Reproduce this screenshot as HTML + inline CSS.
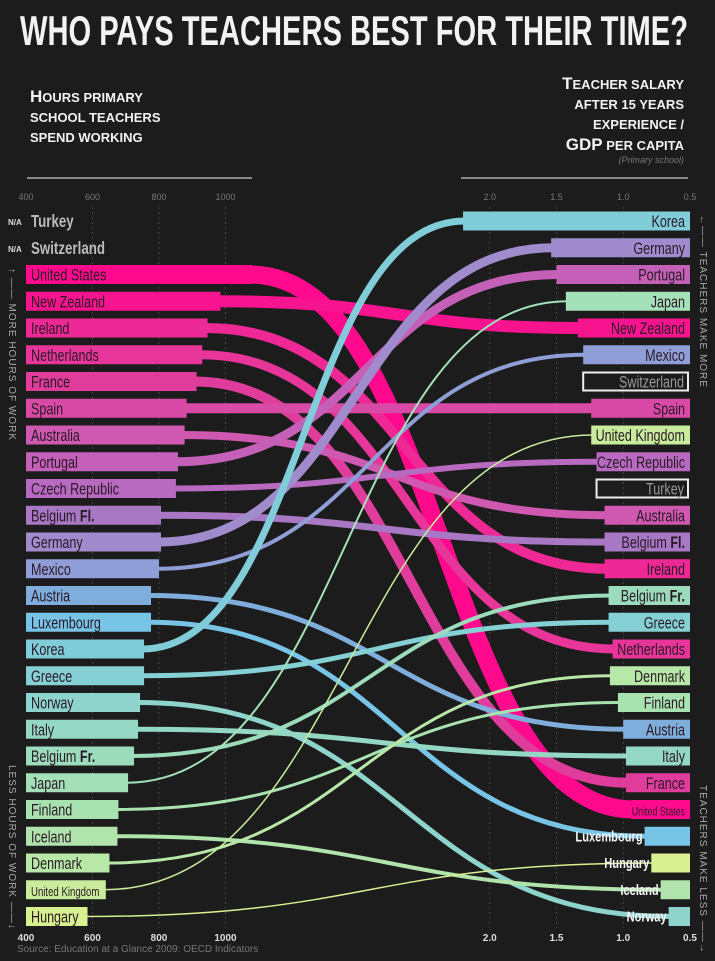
<!DOCTYPE html>
<html><head><meta charset="utf-8">
<style>
body{margin:0;background:#1c1c1c;}
svg{display:block;}
text{font-family:"Liberation Sans Narrow","Liberation Sans",sans-serif;}
</style></head>
<body>
<svg id="chart" width="715" height="961" viewBox="0 0 715 961" xmlns="http://www.w3.org/2000/svg">
<rect width="715" height="961" fill="#1c1c1c"/>
<text x="20" y="45" font-size="42" font-weight="bold" fill="#f2f2f2" textLength="668" lengthAdjust="spacingAndGlyphs">WHO PAYS TEACHERS BEST FOR THEIR TIME?</text>
<g font-family="Liberation Sans" font-weight="bold" fill="#f2f2f2" font-size="13">
<text x="30" y="102"><tspan font-size="17">H</tspan>OURS PRIMARY</text>
<text x="30" y="122">SCHOOL TEACHERS</text>
<text x="30" y="142">SPEND WORKING</text>
</g>
<g font-family="Liberation Sans" font-weight="bold" fill="#f2f2f2" font-size="13" text-anchor="end">
<text x="684" y="89"><tspan font-size="17">T</tspan>EACHER SALARY</text>
<text x="684" y="109">AFTER 15 YEARS</text>
<text x="684" y="129">EXPERIENCE  /</text>
<text x="684" y="150"><tspan font-size="17">GDP</tspan> PER CAPITA</text>
<text x="684" y="163" font-family="Liberation Serif" font-style="italic" font-weight="normal" font-size="9" fill="#777">(Primary school)</text>
</g>
<line x1="27" y1="178" x2="252" y2="178" stroke="#888" stroke-width="2"/>
<line x1="461" y1="178" x2="688" y2="178" stroke="#888" stroke-width="2"/>
<g id="grid"></g>
<g id="lines"></g>
<g id="bars"></g>
<g font-size="10" fill="#aaa" font-family="Liberation Sans">
<text transform="translate(9,268) rotate(90)" letter-spacing="1">↑ —— MORE HOURS OF WORK</text>
<text transform="translate(9,765) rotate(90)" letter-spacing="1">LESS HOURS OF WORK ——↓</text>
<text transform="translate(700,215) rotate(90)" letter-spacing="1">←—— TEACHERS MAKE MORE</text>
<text transform="translate(700,785) rotate(90)" letter-spacing="1">TEACHERS MAKE LESS ——→</text>
</g>
<text x="17" y="952" font-size="10" fill="#777">Source: Education at a Glance 2009: OECD Indicators</text>
</svg>
<script>
const leftCountries=["United States","New Zealand","Ireland","Netherlands","France","Spain","Australia","Portugal","Czech Republic","Belgium Fl.","Germany","Mexico","Austria","Luxembourg","Korea","Greece","Norway","Italy","Belgium Fr.","Japan","Finland","Iceland","Denmark","United Kingdom","Hungary"];
const hours=[1080,985,946,930,913,883,877,857,851,806,806,800,776,776,755,755,743,737,725,707,678,675,651,640,585];
const rightCountries=["Korea","Germany","Portugal","Japan","New Zealand","Mexico","Switzerland","Spain","United Kingdom","Czech Republic","Turkey","Australia","Belgium Fl.","Ireland","Belgium Fr.","Greece","Netherlands","Denmark","Finland","Austria","Italy","France","United States","Luxembourg","Hungary","Iceland","Norway"];
const ratios=[2.2,1.54,1.5,1.43,1.34,1.3,1.3,1.24,1.24,1.2,1.2,1.14,1.14,1.14,1.11,1.11,1.08,1.1,1.04,1.0,0.98,0.98,0.94,0.84,0.79,0.72,0.66];
const naLeft=["Turkey","Switzerland"];
const hourTicks=[400,600,800,1000];
const ratioTicks=[2.0,1.5,1.0,0.5];
const colors=["#ff0a8c","#f8148e","#ee2895","#e83599","#e03c9c","#d94aa6","#cf58b0","#c460b8","#b86ac0","#a878c4","#a08ccc","#8f9ed6","#80aedc","#78c4e6","#80ccd8","#84d0d4","#8ed4cc","#94d8c4","#9cdcbc","#a4e0b8","#a8e2b0","#b0e4ac","#b8e8a8","#c8ec9c","#d8f090"];
const widths=[18,12,10,9,10,10,8,9,6,7,9,4,5,5,7,5,5,5,4,2,3,4,3,1.5,1.5];
const NS="http://www.w3.org/2000/svg";
const xH=h=>26+(h-400)*0.3325;
const xR=v=>690-(v-0.5)*133.5;
const rowY=i=>221+i*26.75;
const SX=0.74;
function mk(tag,attrs,parent){const e=document.createElementNS(NS,tag);for(const k in attrs)e.setAttribute(k,attrs[k]);parent.appendChild(e);return e;}
const grid=document.getElementById('grid'),lines=document.getElementById('lines'),bars=document.getElementById('bars');
hourTicks.forEach((t,i)=>{
  const x=xH(t);
  if(i>0){const l=mk('line',{x1:x,y1:207,x2:x,y2:928,stroke:'#444','stroke-dasharray':'2,3'},grid);
  
  }
  const a=mk('text',{x:x,y:200,'font-size':9,fill:'#777','text-anchor':'middle','font-family':'Liberation Sans'},grid);a.textContent=t;
  
  
  const b=mk('text',{x:x,y:941,'font-size':10,fill:'#ddd','text-anchor':'middle','font-family':'Liberation Sans','font-weight':'bold'},grid);b.textContent=t;
  
  
});
ratioTicks.forEach((t,i)=>{
  const x=xR(t);
  if(i<3){const l=mk('line',{x1:x,y1:207,x2:x,y2:928,stroke:'#444','stroke-dasharray':'2,3'},grid);
  
  }
  const a=mk('text',{x:x,y:200,'font-size':9,fill:'#777','text-anchor':'middle','font-family':'Liberation Sans'},grid);a.textContent=t.toFixed(1);
  
  
  const b=mk('text',{x:x,y:941,'font-size':10,fill:'#ddd','text-anchor':'middle','font-family':'Liberation Sans','font-weight':'bold'},grid);b.textContent=t.toFixed(1);
  
  
});
function label(parent,name,x,y,anchor,size,fill,weight){
  const t=mk('text',{x:0,y:0,transform:`translate(${x},${y}) scale(${SX},1)`,'text-anchor':anchor,'font-size':size,fill:fill},parent);
  if(weight)t.setAttribute('font-weight',weight);
  const m=name.match(/^(Belgium) (F\w\.)$/);
  if(m){const a=mk('tspan',{},t);a.textContent=m[1]+' ';const b=mk('tspan',{'font-weight':'bold'},t);b.textContent=m[2];}
  else t.textContent=name;
  return t;
}
naLeft.forEach((n,i)=>{
  const y=rowY(i);
  const a=mk('text',{x:8,y:y+4,'font-size':8,fill:'#ddd','font-family':'Liberation Sans','font-weight':'bold'},bars);a.textContent='N/A';
  
  
  const t=label(bars,n,31,y+6,'start',18,'#bbb','bold');
  
  
});
leftCountries.forEach((n,i)=>{
  const li=i+2,yl=rowY(li),xl=xH(hours[i]);
  const ri=rightCountries.indexOf(n),yr=rowY(ri),xr=xR(ratios[ri]);
  const mx=(xl+xr)/2;
  const p=mk('path',{d:`M${xl-2},${yl} C${mx},${yl} ${mx},${yr} ${xr+2},${yr}`,fill:'none',stroke:colors[i],'stroke-width':widths[i]},lines);
  
  
  const r=mk('rect',{x:26,y:yl-9.5,width:xl-26,height:19,fill:colors[i]},bars);
  
  
  const t=label(bars,n,31,yl+6,'start',n==='United Kingdom'?13:17,'#2a1a26');
  
  
  const r2=mk('rect',{x:xr,y:yr-9.5,width:690-xr,height:19,fill:colors[i]},bars);
  
  
  const outside=["Luxembourg","Hungary","Iceland","Norway"].includes(n);
  let t2;
  if(outside)t2=label(bars,n,xr-2,yr+5,'end',15,'#f4f4f4','bold');
  else t2=label(bars,n,685,yr+6,'end',n==='United States'?12:17,'#2a1a26');
  
  
});
naLeft.forEach(n=>{
  const ri=rightCountries.indexOf(n),yr=rowY(ri),xr=xR(ratios[ri]);
  const r=mk('rect',{x:xr,y:yr-9,width:688-xr,height:18,fill:'none',stroke:'#eee','stroke-width':2},bars);
  
  
  const t=label(bars,n,684,yr+6,'end',17,'#999');
  
  
});
</script>
</body></html>
